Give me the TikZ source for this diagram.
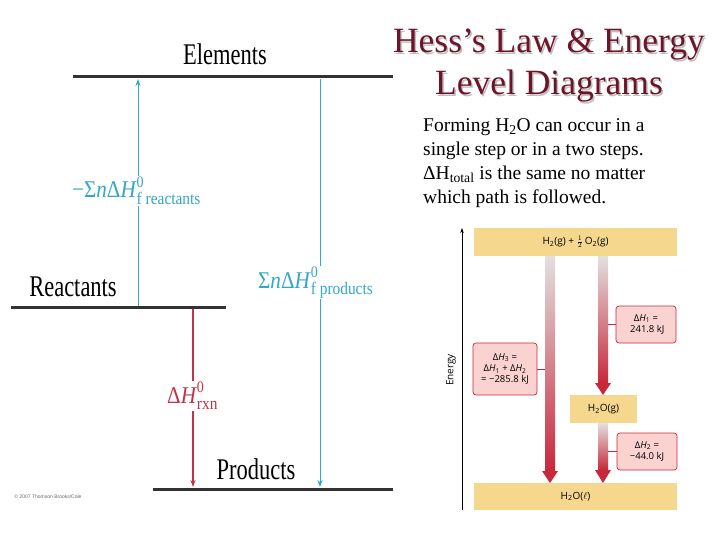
\documentclass[tikz,border=0pt]{standalone}
\usepackage{fontspec}
\setmainfont{Liberation Serif}
\newfontfamily\rsans{Open Sans}
\newfontfamily\cpsans{Liberation Sans}
\usetikzlibrary{arrows.meta}
\definecolor{lvl}{HTML}{333333}
\definecolor{cyanl}{HTML}{33A7C9}
\definecolor{redl}{HTML}{BE3449}
\definecolor{titlec}{HTML}{6E1428}
\definecolor{tanbox}{HTML}{F5D78E}
\definecolor{pinkbox}{HTML}{FAD3D1}
\definecolor{arred}{HTML}{C8283A}
\definecolor{artop}{HTML}{E2E0E0}
\newcommand\supsubx[2]{\rlap{\raisebox{0.95ex}{\fontsize{16}{16}\selectfont #1}}\raisebox{-0.6ex}{\fontsize{17.5}{17.5}\selectfont #2}}
\newcommand\gradarrow[4]{%
  \shade[top color=artop, bottom color=arred] (#1-5,#2) rectangle (#1+5,#3);
  \fill[arred] (#1-8,#3) -- (#1+8,#3) -- (#1,#4) -- cycle;}
\begin{document}
\begin{tikzpicture}[x=1pt,y=-1pt,
  level/.style={draw=lvl, line width=3pt},
  lvllabel/.style={font=\fontsize{30}{30}\selectfont, inner sep=0pt},
  cyanarr/.style={draw=cyanl, line width=1pt, -{Stealth[length=7pt,width=5pt]}},
  redarr/.style={draw=redl, line width=1.3pt, -{Stealth[length=7pt,width=5pt]}},
  formlabel/.style={font=\fontsize{24}{24}\selectfont, fill=white, inner sep=1pt, anchor=base west},
  tanstyle/.style={fill=tanbox, draw=none, inner sep=0pt, font=\rsans\fontsize{10}{12}\selectfont},
  pinkstyle/.style={fill=pinkbox, draw=arred, line width=0.7pt, rounded corners=3pt, inner sep=0pt, align=center, font=\rsans\fontsize{9.5}{11.5}\selectfont},
  conn/.style={draw=arred, line width=0.7pt}]
\useasboundingbox (0,0) rectangle (720,540);
% ---------- left diagram ----------
\coordinate (elL) at (73,77);   \coordinate (elR) at (393,77);
\coordinate (reL) at (11,307);  \coordinate (reR) at (226,307);
\coordinate (prL) at (153,489); \coordinate (prR) at (393,489);
\draw[level] (elL) -- (elR);
\draw[level] (reL) -- (reR);
\draw[level] (prL) -- (prR);
\node[lvllabel] (elements) at (225,54) {\scalebox{0.75}[1]{Elements}};
\node[lvllabel] (reactants) at (73,287) {\scalebox{0.75}[1]{Reactants}};
\node[lvllabel] (products) at (256,469) {\scalebox{0.75}[1]{Products}};
\coordinate (a1b) at (138,306); \coordinate (a1t) at (138,79);
\coordinate (a2t) at (320,79);  \coordinate (a2b) at (320,487);
\coordinate (a3t) at (193,309); \coordinate (a3b) at (193,487);
\draw[cyanarr] (a1b) -- (a1t);
\draw[cyanarr] (a2t) -- (a2b);
\draw[redarr] (a3t) -- (a3b);
\node[formlabel, text=cyanl] (fr) at (71,198) {\scalebox{0.88}[1]{−Σ\textit{n}Δ\textit{H}\supsubx{0}{f reactants}}};
\node[formlabel, text=cyanl] (fp) at (257,288) {\scalebox{0.88}[1]{Σ\textit{n}Δ\textit{H}\supsubx{0}{f products}}};
\node[formlabel, text=redl] (rxn) at (166,403) {\scalebox{0.88}[1]{Δ\textit{H}\supsubx{0}{rxn}}};
\node[font=\cpsans\fontsize{5}{5}\selectfont, text=black!60, inner sep=0pt] (copy) at (48,497) {© 2007 Thomson Brooks/Cole};
% ---------- title ----------
\foreach \dx/\col in {1.5/black!25, 0/titlec}{
  \node[text=\col, font=\fontsize{35.5}{42}\selectfont, align=center, inner sep=0pt] at (549+\dx,66+\dx) {Hess’s Law \& Energy\\Level Diagrams};
}
\node[anchor=north west, align=left, inner sep=0pt, font=\fontsize{19.5}{24}\selectfont] (para) at (423,118)
 {Forming H\textsubscript{2}O can occur in a\\single step or in a two steps.\\ΔH\textsubscript{total} is the same no matter\\which path is followed.};
% ---------- right diagram ----------
\coordinate (axb) at (462,510); \coordinate (axt) at (462,228);
\draw[line width=0.8pt, -{Stealth[length=5pt,width=3.5pt]}] (axb) -- (axt);
\node[rotate=90, font=\rsans\fontsize{10}{10}\selectfont, inner sep=0pt] (energy) at (451,370) {Energy};
\node[tanstyle, minimum width=203pt, minimum height=28pt] (top) at (575.5,242) {H\textsubscript{2}(g) + $\frac{1}{2}$\,O\textsubscript{2}(g)};
\node[tanstyle, minimum width=203pt, minimum height=27pt] (bot) at (575.5,496.5) {H\textsubscript{2}O($\ell$)};
\node[tanstyle, minimum width=67pt, minimum height=28pt] (gas) at (603.5,409) {H\textsubscript{2}O(g)};
\gradarrow{550}{256}{471}{483}
\gradarrow{603}{256}{383}{395}
\gradarrow{603}{423}{470}{483}
\node[pinkstyle, minimum width=60pt, minimum height=37pt] (dh1) at (646,324.5) {Δ\textit{H}\textsubscript{1} =\\\phantom{.}241.8 kJ};
\node[pinkstyle, minimum width=64pt, minimum height=52pt] (dh3) at (505,369) {Δ\textit{H}\textsubscript{3} =\\Δ\textit{H}\textsubscript{1} + Δ\textit{H}\textsubscript{2}\\= −285.8 kJ};
\node[pinkstyle, minimum width=60pt, minimum height=37pt] (dh2) at (647,451.5) {Δ\textit{H}\textsubscript{2} =\\−44.0 kJ};
\coordinate (c1) at (608,324.5); \draw[conn] (c1) -- (dh1.west);
\coordinate (c3) at (545,369);   \draw[conn] (dh3.east) -- (c3);
\coordinate (c2) at (608,451.5); \draw[conn] (c2) -- (dh2.west);
\end{tikzpicture}
\end{document}
